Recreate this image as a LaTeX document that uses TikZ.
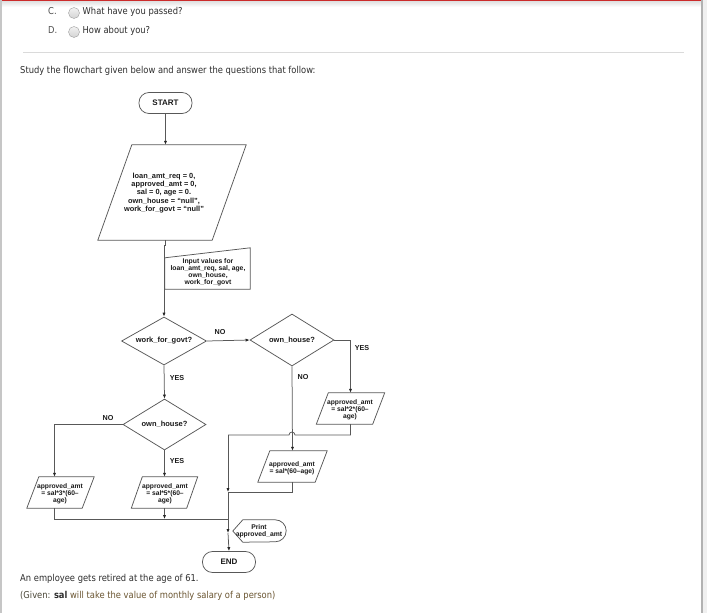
\documentclass[tikz,border=0pt]{standalone}
\usepackage{fontspec}
\setmainfont{DejaVu Sans}
\newfontfamily\pagefont[FakeStretch=0.88]{DejaVu Sans}
\newfontfamily\chartfont{Liberation Sans}
\usetikzlibrary{arrows.meta,shapes.geometric}

\definecolor{pagetext}{HTML}{2E2E2E}
\definecolor{linegray}{HTML}{585858}
\definecolor{chartink}{HTML}{1A1A1A}
\definecolor{topred}{HTML}{CC2B2B}
\definecolor{givenbrown}{HTML}{6B5632}
\definecolor{givendark}{HTML}{4A4636}
\definecolor{rulegray}{HTML}{DADADA}

\begin{document}
\begin{tikzpicture}[x=1pt,y=-1pt,
  page/.style={font=\pagefont\fontsize{9.5}{11}\selectfont, text=pagetext, inner sep=0pt, anchor=west},
  shapeline/.style={draw=linegray, line width=0.75pt},
  conn/.style={draw=linegray, line width=0.75pt},
  flow/.style={conn, -{Latex[length=4pt,width=3.2pt,color=black!85]}},
  box/.style={draw=none, inner sep=0pt, rectangle},
  terminal/.style={shapeline, rectangle, rounded corners=10pt, inner sep=0pt,
    minimum width=53, minimum height=21, text=chartink,
    font=\chartfont\bfseries\fontsize{8}{9}\selectfont},
  decision/.style={shapeline, diamond, aspect=1.8, inner sep=0pt, text=chartink,
    font=\chartfont\bfseries\fontsize{7.5}{8.5}\selectfont},
  bigtext/.style={inner sep=0pt, align=center, text=chartink,
    font=\chartfont\bfseries\fontsize{7.4}{8.3}\selectfont},
  smalltext/.style={inner sep=0pt, align=center, text=chartink,
    font=\chartfont\bfseries\fontsize{6.7}{6.8}\selectfont},
  inputtext/.style={inner sep=0pt, align=center, text=chartink,
    font=\chartfont\bfseries\fontsize{6.8}{6.9}\selectfont},
  lbl/.style={inner sep=0pt, text=chartink,
    font=\chartfont\bfseries\fontsize{7.2}{8}\selectfont},
  radio/.style={circle, draw=gray!75, inner sep=0pt, minimum size=11,
    top color=gray!10, bottom color=gray!35}
]
\useasboundingbox (0,0) rectangle (707,613);
\fill[white] (0,0) rectangle (707,613);

% page frame
\fill[topred] (0,0) rectangle (701,1.6);
\shade[top color=gray!22, bottom color=white] (2,1.6) rectangle (701,7);
\fill[gray!45] (0,0) rectangle (2.2,613);
\fill[gray!60] (700.8,0) rectangle (703.2,613);
\fill[gray!12] (703.2,0) rectangle (707,613);

% answer options
\node[page, text=black!70] (optc) at (48,11.5) {C.};
\node[radio] (radc) at (74,13) {};
\node[page] (ansc) at (82.5,11.5) {What have you passed?};
\node[page, text=black!70] (optd) at (48,30.5) {D.};
\node[radio] (radd) at (74,32) {};
\node[page] (ansd) at (82.5,30.5) {How about you?};

\draw[rulegray, line width=1pt] (23,52) -- (684,52);

\node[page] (intro) at (20,70.5) {Study the flowchart given below and answer the questions that follow:};

% ---------- flowchart ----------
\node[terminal] (start) at (165.5,103) {START};

\node[box, minimum width=148, minimum height=95] (init) at (172,192.5) {};
\node[bigtext] (initt) at (164,193) {loan\_amt\_req = 0,\\approved\_amt = 0,\\sal = 0, age = 0.\\own\_house = “null”,\\work\_for\_govt = “null”};

\node[box, minimum width=85, minimum height=41] (inp) at (207.5,268.5) {};
\node[inputtext] (inpt) at (208,272) {Input values for\\loan\_amt\_req, sal, age,\\own\_house,\\work\_for\_govt};

\node[decision, minimum width=85, minimum height=48] (d1) at (164,341) {work\_for\_govt?};
\node[decision, minimum width=84, minimum height=52] (d2) at (292,340) {own\_house?};
\node[decision, minimum width=83, minimum height=51] (d3) at (164.5,424.5) {own\_house?};

\node[box, minimum width=68, minimum height=31] (pR) at (350.5,408.5) {};
\node[smalltext] (pRt) at (350,410) {approved\_amt\\= sal*2*(60–\\age)};

\node[box, minimum width=69, minimum height=31] (pM2) at (292.5,466.5) {};
\node[smalltext] (pM2t) at (292,468) {approved\_amt\\= sal*(60–age)};

\node[box, minimum width=67, minimum height=31] (pL) at (60.5,492.5) {};
\node[smalltext] (pLt) at (60,494) {approved\_amt\\= sal*3*(60–\\age)};

\node[box, minimum width=66, minimum height=31] (pM) at (164.5,492.5) {};
\node[smalltext] (pMt) at (165,494) {approved\_amt\\= sal*5*(60–\\age)};

\node[box, minimum width=53, minimum height=22] (print) at (259.5,531) {};
\node[inputtext] (printt) at (259,531.5) {Print\\approved\_amt};

\node[terminal] (stop) at (229,562) {END};

% outlines of the input/output shapes
\foreach \n/\s in {init/34, pR/12, pM2/12, pL/12, pM/11}
  \draw[shapeline] (\n.south west) -- ([xshift=\s]\n.north west) -- (\n.north east)
    -- ([xshift=-\s]\n.south east) -- cycle;
\draw[shapeline] (inp.south west) -- ([yshift=-10]inp.north west) -- (inp.north east)
  -- (inp.south east) -- cycle;
\draw[shapeline] (print.west) -- ([xshift=10]print.north west) -- ([xshift=-11]print.north east)
  arc[start angle=90, end angle=-90, radius=11pt] -- ([xshift=10]print.south west) -- cycle;

% junctions on the collecting line
\coordinate (m1) at (228,435);
\coordinate (m2) at (228,492);
\coordinate (m3) at (228,519);
\coordinate (m4) at (228,533);
\coordinate (hopR) at (295,435);

% connectors
\draw[flow] (start.south) -- (start.south |- init.north);
\draw[flow] (start.south |- init.south) -- ++(0,5) -| (d1.north);
\draw[flow] (d1.east) -- (d2.west);
\draw[flow] (d2.east) -| (pR.north);
\draw[flow] (d2.south) -- (pM2.north);
\draw[flow] (d1.south) -- (d3.north);
\draw[flow] (d3.west) -| ([xshift=-6]pL.north);
\draw[flow] (d3.south) -- (pM.north);

\draw[conn] (pR.south) |- (hopR) arc[start angle=0, end angle=180, radius=3pt] -- (m1);
\draw[flow] (m1) -- (m2);
\draw[conn] (pM2.south) |- (m2);
\draw[conn] ([xshift=-6]pL.south) |- (m3);
\draw[flow] (pM.south) -- (pM.south |- m3);
\draw[flow] (m2) -- (m4);
\draw[flow] (m4) -- (stop.north);

% branch labels
\node[lbl] (no1) at (220,332) {NO};
\node[lbl] (yes1) at (362,348) {YES};
\node[lbl] (no2) at (303,377) {NO};
\node[lbl] (yes2) at (177,378) {YES};
\node[lbl] (no3) at (108,418) {NO};
\node[lbl] (yes3) at (177,461) {YES};

% notes under the chart
\node[page] (note1) at (20,579) {An employee gets retired at the age of 61.};
\node[page] (note2) at (20,596) {\textcolor{givendark}{(Given:} \textbf{sal} \textcolor{givenbrown}{will take the value of monthly salary of a person)}};
\end{tikzpicture}
\end{document}
